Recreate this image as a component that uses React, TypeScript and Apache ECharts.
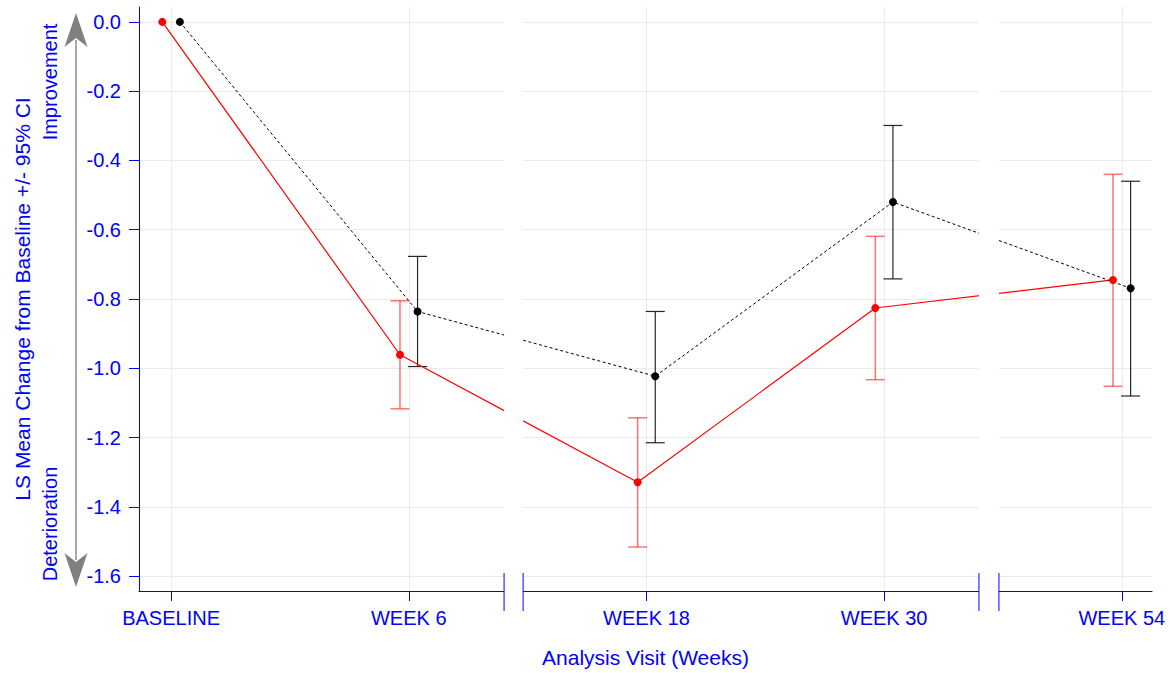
import React, { useEffect, useRef } from "react";
import * as echarts from "echarts";

// ---- data ----
const categories = ["BASELINE", "WEEK 6", "WEEK 18", "WEEK 30", "WEEK 54"];
const visitIndex = [0, 1, 2, 3, 4];

const redMean = [0, -0.961, -1.329, -0.826, -0.745];
const redLower = [null, -1.117, -1.516, -1.033, -1.052];
const redUpper = [null, -0.805, -1.143, -0.619, -0.44];

const blackMean = [0, -0.836, -1.023, -0.52, -0.769];
const blackLower = [null, -0.995, -1.215, -0.742, -1.08];
const blackUpper = [null, -0.677, -0.836, -0.299, -0.46];

const yTicks = [0, -0.2, -0.4, -0.6, -0.8, -1.0, -1.2, -1.4, -1.6];

// axis break ranges (in visit-index units)
const axisBreaks = [
  [1.401, 1.481],
  [3.399, 3.483],
];

// ---- style constants ----
const DODGE = 0.037;
const BLUE = "#0000ff";
const FONT = "'Liberation Sans', Arial, Helvetica, sans-serif";
const GRID = "#ebebeb";

function errorBarSeries(name: string, offset: number, lower: (number | null)[], upper: (number | null)[], color: string, width: number) {
  const data = visitIndex
    .map((v, i) => (lower[i] == null ? null : [v + offset, lower[i], upper[i]]))
    .filter((d) => d !== null);
  return {
    type: "custom",
    name,
    z: 2,
    silent: true,
    data,
    encode: { x: 0, y: [1, 2] },
    renderItem: (params: any, api: any) => {
      const x = api.value(0);
      const lo = api.coord([x, api.value(1)]);
      const hi = api.coord([x, api.value(2)]);
      const w = 9.5;
      const style = { stroke: color, lineWidth: width, fill: "none" };
      return {
        type: "group",
        children: [
          { type: "line", shape: { x1: lo[0], y1: lo[1], x2: hi[0], y2: hi[1] }, style },
          { type: "line", shape: { x1: lo[0] - w, y1: lo[1], x2: lo[0] + w, y2: lo[1] }, style },
          { type: "line", shape: { x1: hi[0] - w, y1: hi[1], x2: hi[0] + w, y2: hi[1] }, style },
        ],
      };
    },
  };
}

export default function App() {
  const ref = useRef<HTMLDivElement>(null);

  useEffect(() => {
    document.body.style.margin = "0";
    if (!ref.current) return;
    const chart = echarts.init(ref.current, null, { renderer: "svg" });

    const option: any = {
      animation: false,
      backgroundColor: "#ffffff",
      textStyle: { fontFamily: FONT },
      grid: { left: 139, right: 18, top: 7, bottom: 80, containLabel: false },
      xAxis: {
        type: "value",
        min: -0.135,
        max: 4.127,
        name: "Analysis Visit (Weeks)",
        nameLocation: "middle",
        nameGap: 56,
        nameTextStyle: { color: BLUE, fontSize: 21, fontFamily: FONT },
        axisLine: { show: true, onZero: false, lineStyle: { color: BLUE, width: 1 } },
        axisTick: { show: true, customValues: visitIndex, length: 10, lineStyle: { color: BLUE } },
        axisLabel: {
          show: true,
          customValues: visitIndex,
          margin: 17,
          color: BLUE,
          fontSize: 20,
          fontFamily: FONT,
          formatter: (v: number) => categories[Math.round(v)] ?? "",
        },
        splitLine: { show: true, lineStyle: { color: GRID, width: 1 } },
      },
      yAxis: {
        type: "value",
        min: -1.643,
        max: 0.043,
        name: "LS Mean Change from Baseline +/- 95% CI",
        nameLocation: "middle",
        nameGap: 106,
        nameTextStyle: { color: BLUE, fontSize: 21, fontFamily: FONT, padding: [0, 0, 0, 0] },
        axisLine: { show: true, onZero: false, lineStyle: { color: BLUE, width: 1 } },
        axisTick: { show: true, customValues: yTicks, length: 10, lineStyle: { color: BLUE } },
        axisLabel: {
          show: true,
          customValues: yTicks,
          margin: 18,
          color: BLUE,
          fontSize: 20,
          fontFamily: FONT,
          formatter: (v: number) => (Math.abs(v) < 1e-9 ? "0.0" : v.toFixed(1)),
        },
        splitLine: { show: true, lineStyle: { color: GRID, width: 1 } },
      },
      graphic: [
        {
          type: "line",
          silent: true,
          shape: { x1: 76, y1: 40, x2: 76, y2: 560 },
          style: { stroke: "#a8a8a8", lineWidth: 2 },
        },
        {
          type: "polygon",
          silent: true,
          shape: { points: [[76, 13], [87.5, 47], [76, 38], [64.5, 47]] },
          style: { fill: "#808080" },
        },
        {
          type: "polygon",
          silent: true,
          shape: { points: [[76, 587], [87.5, 553], [76, 562], [64.5, 553]] },
          style: { fill: "#808080" },
        },
        {
          type: "text",
          silent: true,
          x: 50,
          y: 82,
          rotation: Math.PI / 2,
          style: { text: "Improvement", fill: BLUE, font: `20px ${FONT}`, align: "center", verticalAlign: "middle" },
        },
        {
          type: "text",
          silent: true,
          x: 50,
          y: 524,
          rotation: Math.PI / 2,
          style: { text: "Deterioration", fill: BLUE, font: `20px ${FONT}`, align: "center", verticalAlign: "middle" },
        },
      ],
      series: [
        errorBarSeries("red CI", -DODGE, redLower, redUpper, "rgba(255,0,0,0.55)", 1.5),
        errorBarSeries("black CI", DODGE, blackLower, blackUpper, "rgba(0,0,0,0.85)", 1.2),
        {
          type: "line",
          name: "red",
          z: 3,
          data: visitIndex.map((v, i) => [v - DODGE, redMean[i]]),
          symbol: "circle",
          symbolSize: 8,
          itemStyle: { color: "#ff0000" },
          lineStyle: { color: "#ff0000", width: 1.2 },
        },
        {
          type: "line",
          name: "black",
          z: 3,
          data: visitIndex.map((v, i) => [v + DODGE, blackMean[i]]),
          symbol: "circle",
          symbolSize: 8,
          itemStyle: { color: "#000000" },
          lineStyle: { color: "#000000", width: 1, type: [3, 2.5] },
        },
        {
          type: "custom",
          name: "breaks",
          z: 10,
          silent: true,
          data: axisBreaks.map((b) => [b[0], b[1], -0.8]),
          encode: { x: [0, 1], y: 2 },
          renderItem: (params: any, api: any) => {
            const a = api.coord([api.value(0), 0])[0];
            const b = api.coord([api.value(1), 0])[0];
            const cs = params.coordSys;
            const bottom = cs.y + cs.height;
            const ls = { stroke: BLUE, lineWidth: 1 };
            return {
              type: "group",
              children: [
                { type: "rect", shape: { x: a, y: cs.y - 2, width: b - a, height: cs.height + 5 }, style: { fill: "#ffffff" } },
                { type: "line", shape: { x1: a, y1: bottom - 18, x2: a, y2: bottom + 20 }, style: ls },
                { type: "line", shape: { x1: b, y1: bottom - 18, x2: b, y2: bottom + 20 }, style: ls },
              ],
            };
          },
        },
      ],
    };

    chart.setOption(option);
    return () => chart.dispose();
  }, []);

  return <div ref={ref} style={{ width: 1170, height: 673 }} />;
}
